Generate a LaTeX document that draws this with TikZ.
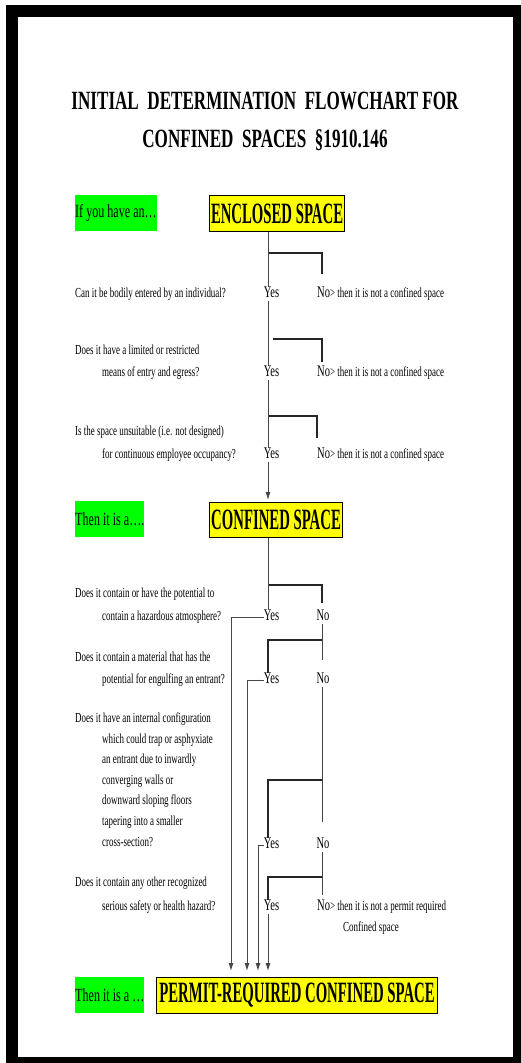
\documentclass[tikz,border=0pt]{standalone}
\usepackage{fontspec}
\setmainfont{Liberation Serif}
\newfontfamily\tnr[FakeStretch=0.65]{Liberation Serif}
\newfontfamily\tnrbox[FakeStretch=0.5]{Liberation Serif}
\usetikzlibrary{arrows.meta}
\definecolor{grn}{RGB}{0,255,0}
\definecolor{yel}{RGB}{255,255,0}
\definecolor{lncol}{RGB}{70,70,70}
\newcommand{\ynf}{\fontsize{16.2}{18}\selectfont}
\begin{document}
\begin{tikzpicture}[x=1pt,y=-1pt,
  q/.style={anchor=west,inner sep=0pt,font=\tnr\fontsize{13.8}{16}\selectfont,text height=9.4pt,text depth=3pt},
  yn/.style={inner sep=0pt,font=\tnr\ynf,text height=11pt,text depth=3.5pt},
  gbox/.style={fill=grn,inner sep=0pt,font=\tnr\fontsize{18.6}{20}\selectfont,anchor=north west,minimum height=36pt},
  ybox/.style={fill=yel,draw=black,line width=1.1pt,inner sep=0pt,font=\tnrbox\bfseries\fontsize{29.5}{30}\selectfont,anchor=north west,minimum height=36pt},
  ttl/.style={inner sep=0pt,anchor=base,font=\tnr\bfseries\fontsize{26.3}{30}\selectfont},
  ln/.style={draw=lncol,line width=0.9pt},
  hl/.style={draw=black!85,line width=1.2pt},
  arr/.style={ln,-{Latex[length=8pt,width=5pt]},shorten >=6pt},
]
% page and frame
\fill[white] (0,0) rectangle (521,1063);
\useasboundingbox (0,0) rectangle (521,1063);
\fill[black] (6,5) rectangle (521,1063);
\fill[white] (18,17) rectangle (513,1057);

% title
\node[ttl] (t1) at (265,109) {INITIAL\ \ DETERMINATION\ \ FLOWCHART FOR};
\node[ttl] (t2) at (265,147) {CONFINED\ \ SPACES\ \ §1910.146};

% helper x positions
\coordinate (T) at (268,0);
\coordinate (N) at (322,0);
\coordinate (L1) at (231,0);
\coordinate (L2) at (247,0);
\coordinate (L3) at (258,0);

% ---- section 1
\node[gbox,minimum width=81pt] (g1) at (75,195) {If you have an…};
\node[ybox,minimum width=135pt] (enc) at (209,195) {ENCLOSED SPACE};

\node[q] (q1) at (75,294) {Can it be bodily entered by an individual?};
\node[yn] (y1) at (271.5,294) {Yes};
\node[q] (n1) at (317,294) {{\ynf No}> then it is not a confined space};

\node[q] (q2a) at (75,351) {Does it have a limited or restricted};
\node[q] (q2b) at (102,373) {means of entry and egress?};
\node[yn] (y2) at (271.5,373) {Yes};
\node[q] (n2) at (317,373) {{\ynf No}> then it is not a confined space};

\node[q] (q3a) at (75,432) {Is the space unsuitable (i.e. not designed)};
\node[q] (q3b) at (102,455) {for continuous employee occupancy?};
\node[yn] (y3) at (271.5,455) {Yes};
\node[q] (n3) at (317,455) {{\ynf No}> then it is not a confined space};

\coordinate (b1) at (268,253); \coordinate (e1) at (322,274);
\coordinate (b2) at (273,339); \coordinate (e2) at (322,362);
\coordinate (b3) at (268,416); \coordinate (e3) at (317,438);
\draw[hl] (b1) -| (e1);
\draw[hl] (b2) -| (e2);
\draw[hl] (b3) -| (e3);

\draw[ln] (enc.south -| T) -- (y1.north -| T);
\draw[ln] (y1.south -| T) -- (y2.north -| T);
\draw[ln] (y2.south -| T) -- (y3.north -| T);

% ---- section 2
\node[gbox,minimum width=69pt] (g2) at (75,501) {Then it is a….};
\node[ybox,minimum width=133pt,minimum height=35pt] (conf) at (209,502) {CONFINED SPACE};
\draw[arr,shorten >=2pt] (y3.south -| T) -- (conf.north -| T);

\node[q] (q4a) at (75,594) {Does it contain or have the potential to};
\node[q] (q4b) at (102,617) {contain a hazardous atmosphere?};
\node[yn] (y4) at (271.5,617) {Yes};
\node[yn] (n4) at (323,617) {No};

\node[q] (q5a) at (75,658) {Does it contain a material that has the};
\node[q] (q5b) at (102,680) {potential for engulfing an entrant?};
\node[yn] (y5) at (271.5,680) {Yes};
\node[yn] (n5) at (323,680) {No};

\node[q] (q6a) at (75,719) {Does it have an internal configuration};
\node[q] (q6b) at (102,740) {which could trap or asphyxiate};
\node[q] (q6c) at (102,760) {an entrant due to inwardly};
\node[q] (q6d) at (102,781) {converging walls or};
\node[q] (q6e) at (102,801) {downward sloping floors};
\node[q] (q6f) at (102,822) {tapering into a smaller};
\node[q] (q6g) at (102,843) {cross-section?};
\node[yn] (y6) at (271.5,845) {Yes};
\node[yn] (n6) at (323,845) {No};

\node[q] (q7a) at (75,883) {Does it contain any other recognized};
\node[q] (q7b) at (102,907) {serious safety or health hazard?};
\node[yn] (y7) at (271.5,907) {Yes};
\node[q] (n7) at (317,907) {{\ynf No}> then it is not a permit required};
\node[q] (n7b) at (343,928) {Confined space};

% ---- section 3
\node[gbox,minimum width=69pt] (g3) at (75,977) {Then it is a …};
\node[ybox,minimum width=281pt] (prc) at (156,977) {PERMIT-REQUIRED CONFINED SPACE};

% connectors section 2
\coordinate (b4) at (268,585); \coordinate (e4) at (322,603);
\draw[hl] (b4) -| (e4);
\draw[ln] (conf.south -| T) -- (y4.north -| T);

\coordinate (b5) at (322,640); \coordinate (e5) at (322,660);
\draw[ln] (n4.south -| N) -- (e5);
\draw[hl] (b5) -| (y5.north -| T);

\coordinate (b6) at (322,780); \coordinate (e6) at (322,822);
\draw[ln] (n5.south -| N) -- (e6);
\draw[hl] (b6) -| (y6.north -| T);

\coordinate (b7) at (322,877); \coordinate (e7) at (322,895);
\draw[ln] (n6.south -| N) -- (e7);
\draw[hl] (b7) -| (y7.north -| T);

\draw[arr] (y4.west) -| (prc.north -| L1);
\draw[arr] (y5.west) -| (prc.north -| L2);
\draw[arr] (y6.west) -| (prc.north -| L3);
\draw[arr] (y7.south -| T) -- (prc.north -| T);
\end{tikzpicture}
\end{document}
